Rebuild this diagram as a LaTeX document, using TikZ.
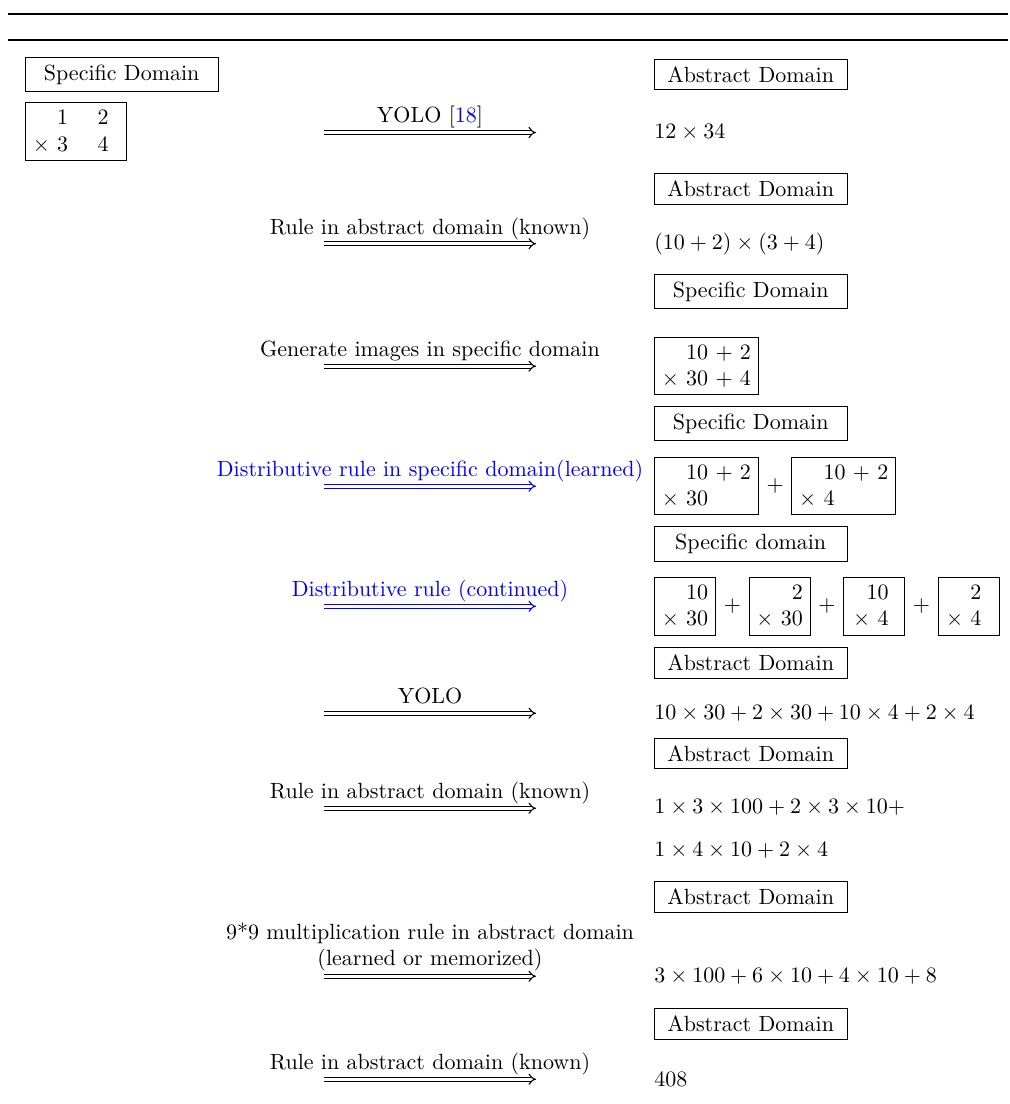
\documentclass[tikz,border=0pt]{standalone}
\usepackage{xcolor}
\usepackage{tikz}
\usepackage{amsmath}
\usetikzlibrary{
  arrows.meta,
  positioning
}
\tikzset{
  domaintag/.style={draw, minimum width=87.5pt, anchor=west},
  stackbox/.style={draw, align=right},
  smallstack/.style={stackbox, minimum width=27.7pt},
  expr/.style={anchor=west, inner xsep=0pt},
  imply/.style={double, double distance=1.2pt, line width=0.5pt, -{Implies}},
  arrowtag/.style={anchor=base, yshift=4.4pt},
  tablerule/.style={line width=0.6pt}
}

\begin{document}
\begin{tikzpicture}[x=0.4545pt, y=-0.4545pt]
  \useasboundingbox (0,0) rectangle (1009,1104);
  \draw[tablerule] (8,14) -- (1008,14);
  \draw[tablerule] (8,40) -- (1008,40);

  % arrow ends, one pair per step
  \foreach \n/\y in {1/132.5, 2/243.7, 3/366.2, 4/486.2, 5/606.3, 6/713.2, 7/808.2, 8/976.2, 9/1079.2} {
    \coordinate (s\n) at (324,\y);
    \coordinate (e\n) at (536,\y);
  }

  % left column
  \node[domaintag] (src) at (25,74.5) {Specific Domain};
  \node[stackbox, anchor=west] (img0) at (25,131.5) {1 \quad 2\phantom{0}\\$\times$ 3 \quad 4\phantom{0}};

  % right column: domain tags
  \node[domaintag] (tag1) at (654,74.5) {Abstract Domain};
  \node[domaintag] (tag2) at (654,189) {Abstract Domain};
  \node[domaintag] (tag3) at (654,291.5) {Specific Domain};
  \node[domaintag] (tag4) at (654,423.5) {Specific Domain};
  \node[domaintag] (tag5) at (654,544) {Specific domain};
  \node[domaintag] (tag6) at (654,663) {Abstract Domain};
  \node[domaintag] (tag7) at (654,753.5) {Abstract Domain};
  \node[domaintag] (tag8) at (654,897) {Abstract Domain};
  \node[domaintag] (tag9) at (654,1024) {Abstract Domain};

  % right column: results
  \node[expr] (res1) at (654,132.5) {$12\times34$};
  \node[expr] (res2) at (654,243.7) {$(10+2)\times(3+4)$};
  \node[stackbox, anchor=west] (res3) at (654,366) {10 + 2\\$\times$ 30 + 4};
  \node[stackbox, anchor=west] (res4a) at (654,486) {10 + 2\\$\times$ 30\phantom{ + 4}};
  \node[right=0pt of res4a] (plus4) {+};
  \node[stackbox, right=0pt of plus4] (res4b) {10 + 2\\$\times$ 4\phantom{0 + 4}};
  \node[smallstack, anchor=west] (res5a) at (654,606.3) {10\\$\times$ 30};
  \node[right=0pt of res5a] (plus5a) {+};
  \node[smallstack, right=0pt of plus5a] (res5b) {2\\$\times$ 30};
  \node[right=0pt of res5b] (plus5b) {+};
  \node[smallstack, right=0pt of plus5b] (res5c) {10\kern3pt\\$\times$ 4\kern3pt};
  \node[right=0pt of res5c] (plus5c) {+};
  \node[smallstack, right=0pt of plus5c] (res5d) {2\kern4.5pt\\$\times$ 4\kern4.5pt};
  \node[expr] (res6) at (654,713) {$10\times30+2\times30+10\times4+2\times4$};
  \node[expr] (res7a) at (654,807) {$1\times3\times100+2\times3\times10+$};
  \node[expr] (res7b) at (654,850) {$1\times4\times10+2\times4$};
  \node[expr] (res8) at (654,976) {$3\times100+6\times10+4\times10+8$};
  \node[expr] (res9) at (654,1079) {$408$};

  % the steps
  \draw[imply] (s1) -- node[arrowtag] {YOLO [\textcolor{blue}{18}]} (e1);
  \draw[imply] (s2) -- node[arrowtag] {Rule in abstract domain (known)} (e2);
  \draw[imply] (s3) -- node[arrowtag] {Generate images in specific domain} (e3);
  \draw[imply, blue] (s4) -- node[arrowtag] {Distributive rule in specific domain(learned)} (e4);
  \draw[imply, blue] (s5) -- node[arrowtag] {Distributive rule (continued)} (e5);
  \draw[imply] (s6) -- node[arrowtag] {YOLO} (e6);
  \draw[imply] (s7) -- node[arrowtag] {Rule in abstract domain (known)} (e7);
  \draw[imply] (s8) -- node[anchor=south, align=center, inner sep=0pt, yshift=1.9pt] {9*9 multiplication rule in abstract domain\\(learned or memorized)} (e8);
  \draw[imply] (s9) -- node[arrowtag] {Rule in abstract domain (known)} (e9);
\end{tikzpicture}
\end{document}
